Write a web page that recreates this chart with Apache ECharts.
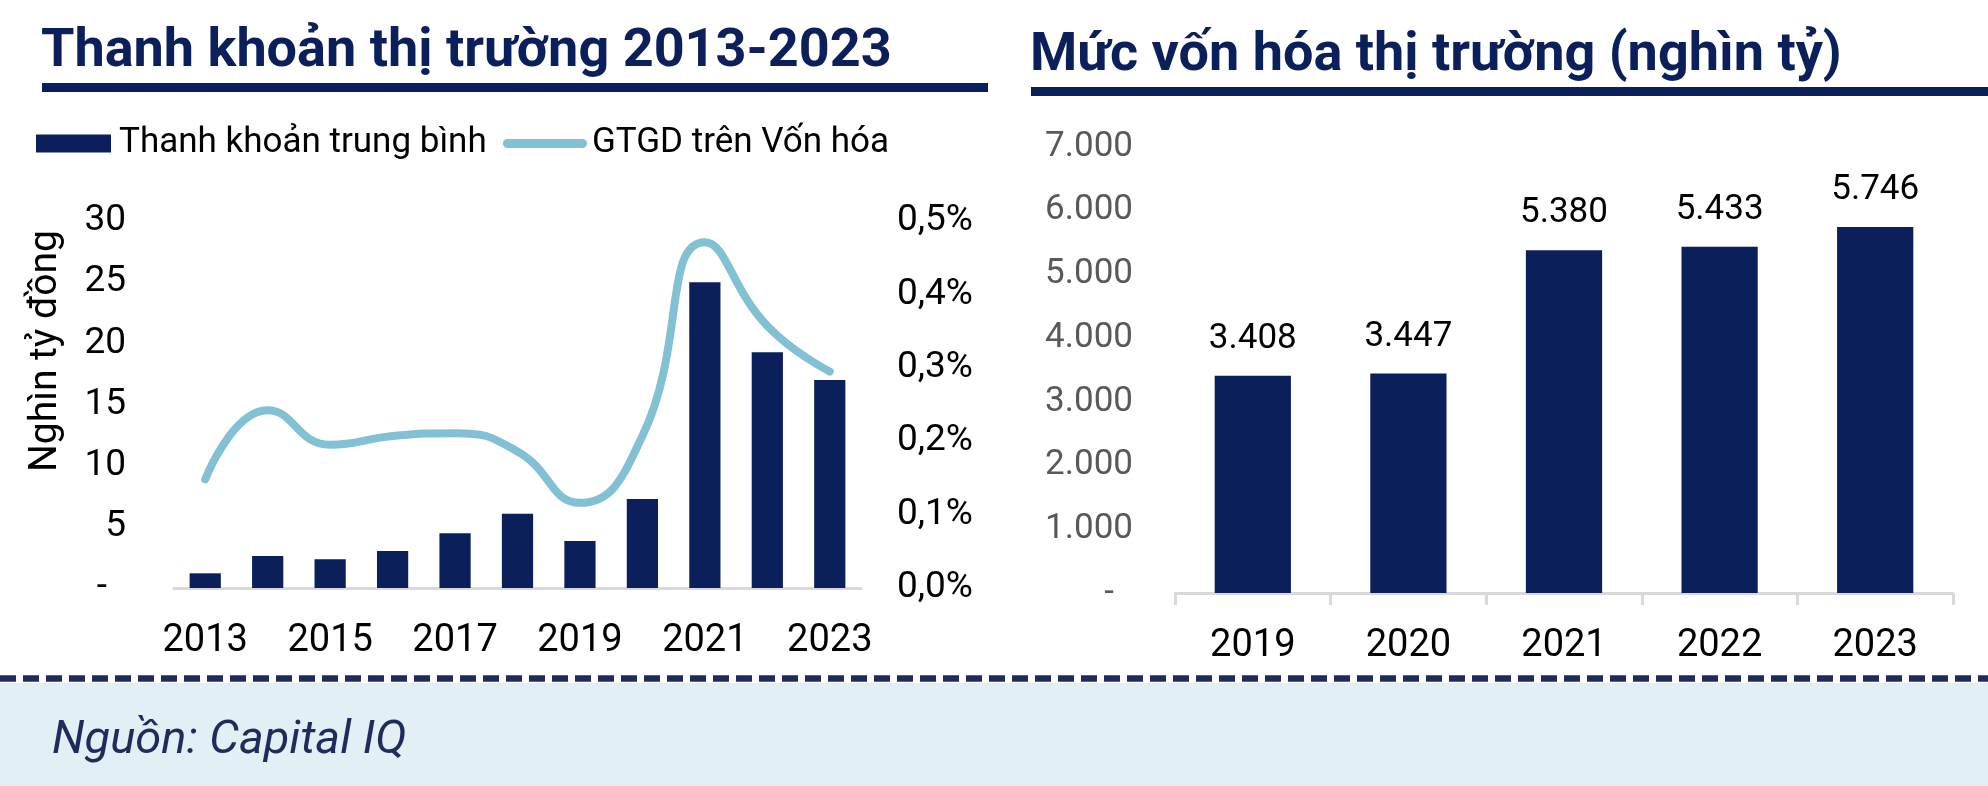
<!DOCTYPE html>
<html>
<head>
<meta charset="utf-8">
<script src="https://cdn.jsdelivr.net/npm/echarts@6/dist/echarts.min.js"></script>
<style>
html,body{margin:0;padding:0;background:#fff;}
#c{width:1988px;height:786px;}
</style>
</head>
<body>
<div id="c"></div>
<script>
// ---- data ----
const years = ['2013','2014','2015','2016','2017','2018','2019','2020','2021','2022','2023'];
const avgLiquidity = [1.2, 2.62, 2.35, 3.02, 4.47, 6.07, 3.84, 7.28, 24.99, 19.27, 17.0]; // nghìn tỷ đồng
const turnoverPct = [0.148, 0.242, 0.195, 0.207, 0.211, 0.186, 0.116, 0.207, 0.471, 0.357, 0.295]; // %
const capYears = ['2019','2020','2021','2022','2023'];
const marketCap = [3408, 3447, 5380, 5433, 5746]; // nghìn tỷ
const leftTicks = {min: 0, max: 30, step: 5};
const pctTicks = {min: 0, max: 0.5, step: 0.1};
const capTicks = {min: 0, max: 7000, step: 1000};

const NAVY = '#0B1F5B';
const LINE = '#82C0D3';
const FONT = 'Roboto';

function thousands(v){
  return String(Math.round(v)).replace(/\B(?=(\d{3})+(?!\d))/g, '.');
}

const chart = echarts.init(document.getElementById('c'), null, {renderer: 'canvas'});
chart.setOption({
  animation: false,
  backgroundColor: '#ffffff',
  textStyle: {fontFamily: FONT},
  title: [
    {text: 'Thanh khoản thị trường 2013-2023', left: 41, top: 25, padding: 0,
     textStyle: {fontFamily: FONT, fontWeight: 'bold', fontSize: 54, color: NAVY}},
    {text: 'Mức vốn hóa thị trường (nghìn tỷ)', left: 1030, top: 29, padding: 0,
     textStyle: {fontFamily: FONT, fontWeight: 'bold', fontSize: 54, color: NAVY}}
  ],
  legend: [
    {data: ['Thanh khoản trung bình'], left: 36, top: 126, padding: 0,
     itemWidth: 75, itemHeight: 18, icon: 'rect',
     textStyle: {fontFamily: FONT, fontSize: 35, color: '#000', padding: [0,0,0,3]}},
    {data: [{name: 'GTGD trên Vốn hóa',
             icon: 'path://M4.5,0 L79.5,0 A4.5,4.5 0 0 1 79.5,9 L4.5,9 A4.5,4.5 0 0 1 4.5,0 Z'}],
     left: 503, top: 126, padding: 0,
     itemWidth: 84, itemHeight: 9,
     textStyle: {fontFamily: FONT, fontSize: 35, color: '#000'}}
  ],
  grid: [
    {left: 174, right: 1988 - 861, top: 221, bottom: 786 - 588, outerBoundsMode: 'none'},
    {left: 1175, right: 1988 - 1953, top: 147, bottom: 786 - 593, outerBoundsMode: 'none'}
  ],
  xAxis: [
    {type: 'category', gridIndex: 0, data: years,
     axisLine: {lineStyle: {color: '#D9D9D9', width: 3}},
     axisTick: {show: false},
     axisLabel: {interval: 1, margin: 34, fontSize: 38, color: '#000', fontFamily: FONT}},
    {type: 'category', gridIndex: 1, data: capYears,
     axisLine: {lineStyle: {color: '#D9D9D9', width: 3}},
     axisTick: {show: true, length: 12, lineStyle: {color: '#D9D9D9', width: 3}},
     axisLabel: {margin: 34, fontSize: 38, color: '#000', fontFamily: FONT}}
  ],
  yAxis: [
    {type: 'value', gridIndex: 0, min: leftTicks.min, max: leftTicks.max, interval: leftTicks.step,
     splitLine: {show: false}, axisLine: {show: false}, axisTick: {show: false},
     axisLabel: {margin: 48, fontSize: 37, color: '#000', fontFamily: FONT,
       formatter: v => v === 0 ? '{d|-}' : String(v),
       rich: {d: {fontSize: 37, color: '#000', fontFamily: FONT, padding: [0, 19, 0, 0]}}}},
    {type: 'value', gridIndex: 0, position: 'right', min: pctTicks.min, max: pctTicks.max, interval: pctTicks.step,
     splitLine: {show: false}, axisLine: {show: false}, axisTick: {show: false},
     axisLabel: {margin: 36, fontSize: 37, color: '#000', fontFamily: FONT,
       formatter: v => v.toFixed(1).replace('.', ',') + '%'}},
    {type: 'value', gridIndex: 1, min: capTicks.min, max: capTicks.max, interval: capTicks.step,
     splitLine: {show: false}, axisLine: {show: false}, axisTick: {show: false},
     axisLabel: {margin: 42, fontSize: 35, color: '#595959', fontFamily: FONT,
       formatter: v => v === 0 ? '{d|-}' : thousands(v),
       rich: {d: {fontSize: 35, color: '#595959', fontFamily: FONT, padding: [0, 19, 0, 0]}}}}
  ],
  series: [
    {name: 'Thanh khoản trung bình', type: 'bar', xAxisIndex: 0, yAxisIndex: 0,
     data: avgLiquidity, barWidth: '50%', itemStyle: {color: NAVY}, z: 2},
    {name: 'GTGD trên Vốn hóa', type: 'line', xAxisIndex: 0, yAxisIndex: 1,
     data: turnoverPct, smooth: 0.5, symbol: 'none',
     lineStyle: {color: LINE, width: 8, cap: 'round', join: 'round'}, itemStyle: {color: LINE}, z: 3},
    {name: 'Mức vốn hóa', type: 'bar', xAxisIndex: 1, yAxisIndex: 2,
     data: marketCap, barWidth: '49%', itemStyle: {color: NAVY},
     label: {show: true, position: 'top', distance: 19, fontSize: 35, color: '#000', fontFamily: FONT,
       formatter: p => thousands(p.value)}}
  ],
  graphic: [
    {type: 'rect', shape: {x: 42, y: 83, width: 946, height: 9}, style: {fill: NAVY}, silent: true},
    {type: 'rect', shape: {x: 1031, y: 87, width: 957, height: 9}, style: {fill: NAVY}, silent: true},
    {type: 'text', x: 46, y: 351, rotation: Math.PI / 2, silent: true,
     style: {text: 'Nghìn tỷ đồng', font: '39px Roboto', fill: '#000', align: 'center', verticalAlign: 'middle'}},
    {type: 'rect', shape: {x: 0, y: 683, width: 1988, height: 103}, style: {fill: '#E2EFF4'}, silent: true},
    {type: 'line', shape: {x1: 0, y1: 678.5, x2: 1988, y2: 678.5}, silent: true,
     style: {stroke: '#1F2B5C', lineWidth: 6.5, lineDash: [16, 7]}},
    {type: 'text', x: 52, y: 741, silent: true,
     style: {text: 'Nguồn: Capital IQ', font: 'italic 47px Roboto', fill: '#1F2B5C', align: 'left', verticalAlign: 'middle'}}
  ]
});
</script>
</body>
</html>
